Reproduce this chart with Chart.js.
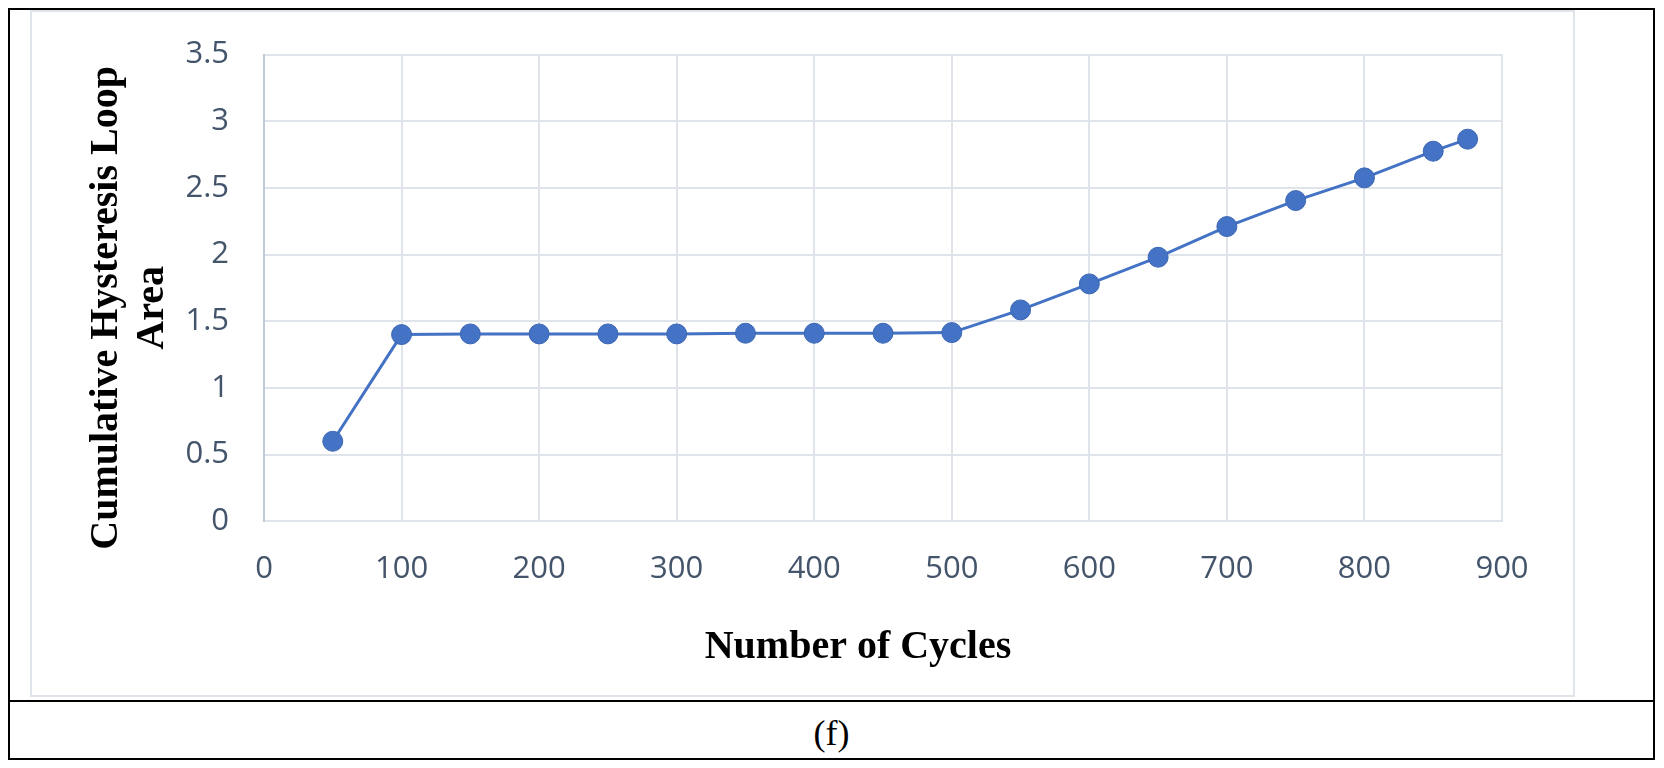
<!DOCTYPE html>
<html>
<head>
<meta charset="utf-8">
<title>Cumulative Hysteresis Loop Area</title>
<script src="https://cdn.jsdelivr.net/npm/chart.js@4.4.1/dist/chart.umd.min.js"></script>
<style>
  html, body { margin: 0; padding: 0; background: #ffffff; }
  body { width: 1664px; height: 768px; position: relative; overflow: hidden; }
  #table { position: absolute; left: 8px; top: 8px; width: 1643px; height: 748px; border: 2px solid #000; }
  #divider { position: absolute; left: 8px; top: 700px; width: 1647px; height: 2px; background: #000; }
  #inner { position: absolute; left: 30px; top: 10px; width: 1541px; height: 683px; border: 2px solid #dfe3ea; }
  #chartBox { position: absolute; left: 0; top: 0; width: 1664px; height: 700px; }
  #caption { position: absolute; left: 8px; top: 715px; width: 1647px; height: 36px; line-height: 36px;
             text-align: center; font-family: "Liberation Serif", "Times New Roman", serif; font-size: 36px; color: #000; }
</style>
</head>
<body>
<div id="table"></div>
<div id="inner"></div>
<div id="divider"></div>
<div id="chartBox"><canvas id="myChart"></canvas></div>
<div id="caption">(f)</div>

<script>
// data
const cycles = [50, 100, 150, 200, 250, 300, 350, 400, 450, 500, 550, 600, 650, 700, 750, 800, 850, 875];
const loopArea = [0.60, 1.40, 1.405, 1.405, 1.405, 1.405, 1.41, 1.41, 1.41, 1.415, 1.585, 1.78, 1.98, 2.21, 2.405, 2.575, 2.775, 2.865];

const xTicks = [0, 100, 200, 300, 400, 500, 600, 700, 800, 900];
const yTicks = [0, 0.5, 1, 1.5, 2, 2.5, 3, 3.5];

const xTitle = 'Number of Cycles';
const yTitle = ['Cumulative Hysteresis Loop', 'Area'];

const points = cycles.map((c, i) => ({ x: c, y: loopArea[i] }));

const blue = '#4472C4';
const gridColor = '#dfe3ea';
const tickColor = '#44546A';

const tickFont = { family: '"Open Sans", sans-serif', size: 31 };

// axis titles sit a little off-centre in the original (Excel) chart,
// so they are drawn here instead of with the built-in scale titles
const axisTitles = {
    id: 'axisTitles',
    afterDraw(chart) {
        const { ctx, chartArea } = chart;
        ctx.save();
        ctx.font = 'bold 40px "Liberation Serif", "Times New Roman", serif';
        ctx.fillStyle = '#000';
        ctx.textAlign = 'center';
        ctx.textBaseline = 'middle';
        ctx.fillText(xTitle, (chartArea.left + chartArea.right) / 2 - 25, 648);
        ctx.translate(106.5, (chartArea.top + chartArea.bottom) / 2 + 20);
        ctx.rotate(-Math.PI / 2);
        yTitle.forEach((line, i) => ctx.fillText(line, 0, i * 46));
        ctx.restore();
    }
};

//data

const data = {
    datasets: [{
        label: 'Cumulative Hysteresis Loop Area',
        data: points,
        showLine: true,
        borderColor: blue,
        borderWidth: 3,
        pointRadius: 10,
        pointHoverRadius: 10,
        pointBackgroundColor: blue,
        pointBorderColor: '#3b66b4',
        pointBorderWidth: 1
    }]
};

//options

const options = {
    responsive: true,
    maintainAspectRatio: false,
    animation: false,
    layout: {
        padding: { left: 0, top: 54.5, right: 162, bottom: 0 }
    },
    plugins: {
        legend: { display: false },
        tooltip: { enabled: false }
    },
    scales: {
        x: {
            type: 'linear',
            min: xTicks[0],
            max: xTicks[xTicks.length - 1],
            afterBuildTicks: (axis) => { axis.ticks = xTicks.map(v => ({ value: v })); },
            afterFit: (axis) => { axis.height = 178.7; },
            grid: { color: gridColor, lineWidth: 2, drawTicks: false },
            border: { color: gridColor, width: 2 },
            ticks: { color: tickColor, font: tickFont, padding: 29, callback: (v) => String(v) },
            title: { display: false, text: xTitle }
        },
        y: {
            type: 'linear',
            min: yTicks[0],
            max: yTicks[yTicks.length - 1],
            afterBuildTicks: (axis) => { axis.ticks = yTicks.map(v => ({ value: v })); },
            afterFit: (axis) => { axis.width = 264; },
            grid: { color: gridColor, lineWidth: 2, drawTicks: false },
            border: { color: '#c3cad7', width: 2 },
            ticks: { color: tickColor, font: tickFont, padding: 35, callback: (v) => String(v) },
            title: { display: false, text: yTitle.join(' ') }
        }
    }
};

//config

const config = {
    type: 'scatter',
    data,
    options,
    plugins: [axisTitles]
};

//render

const myChart = new Chart(
    document.getElementById('myChart'),
    config
);
</script>
</body>
</html>
